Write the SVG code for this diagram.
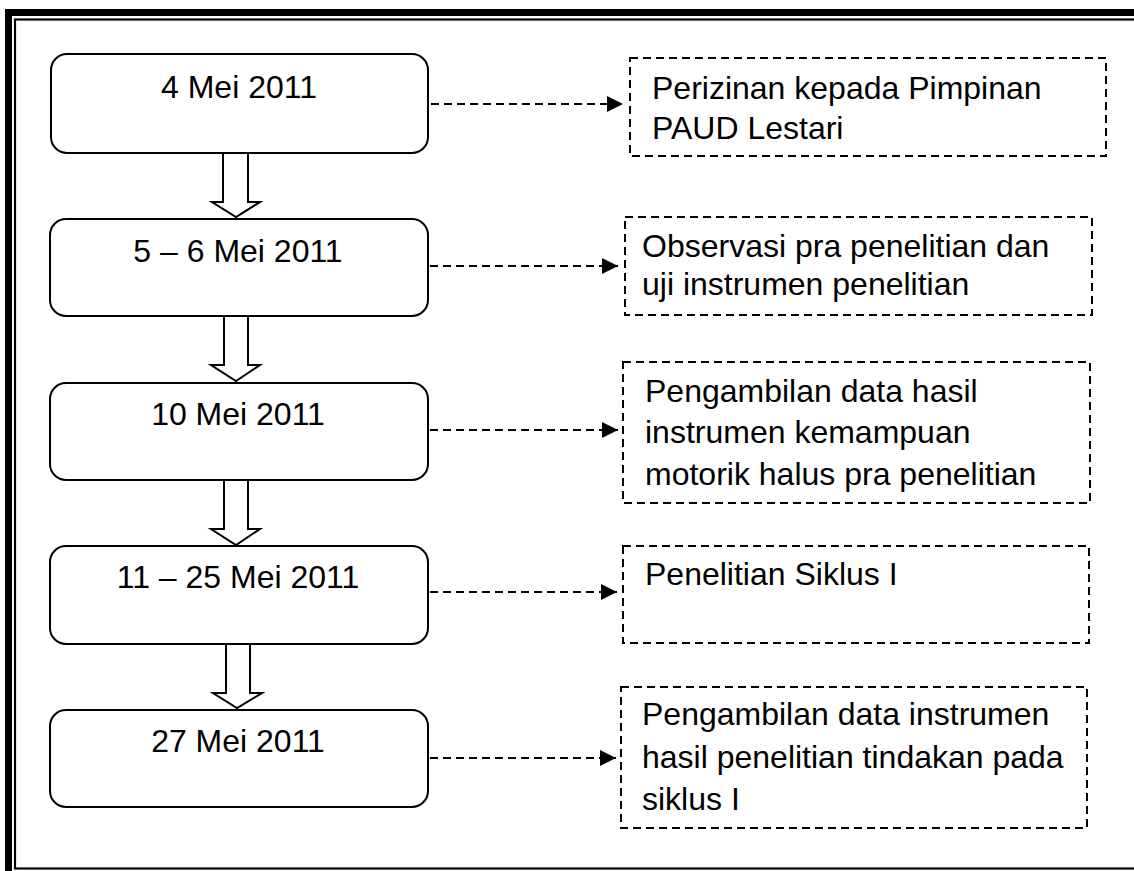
<svg xmlns="http://www.w3.org/2000/svg" width="1134" height="871" viewBox="0 0 1134 871">
<style>
  .frame-outer { fill: none; stroke: #000; stroke-width: 7; }
  .frame-inner { fill: none; stroke: #000; stroke-width: 2.2; }
  .date { fill: #fff; stroke: #000; stroke-width: 2; }
  .note { fill: #fff; stroke: #000; stroke-width: 2; stroke-dasharray: 8 5; }
  .block { fill: #fff; stroke: #000; stroke-width: 2; stroke-linejoin: miter; }
  .dash { fill: none; stroke: #000; stroke-width: 2; stroke-dasharray: 8 5; }
  text { font-family: "Liberation Sans", Arial, sans-serif; font-size: 32px; fill: #000; }
  .c { text-anchor: middle; }
</style>
<defs>
  <marker id="ah" viewBox="0 0 16 16" refX="16" refY="8" markerWidth="16" markerHeight="16" markerUnits="userSpaceOnUse" orient="auto">
    <path d="M0,0 L16,8 L0,16 Z" fill="#000"/>
  </marker>
</defs>
<rect width="1134" height="871" fill="#fff"/>
<g id="frame">
  <rect class="frame-outer" x="8.5" y="12.5" width="1140" height="866"/>
  <rect class="frame-inner" x="15" y="19.5" width="1130" height="849"/>
</g>
<g id="connectors">
  <path class="block" d="M223,153 V202 H212 L236,217 L260,202 H248 V153"/>
  <path class="block" d="M224,316 V365 H211 L236,381 L260,365 H248 V316"/>
  <path class="block" d="M224,480 V529 H211 L236,545 L260,529 H248 V480"/>
  <path class="block" d="M226,644 V693 H213 L237,708 L262,693 H250 V644"/>
  <line class="dash" x1="431" y1="104" x2="623" y2="104" marker-end="url(#ah)"/>
  <line class="dash" x1="430" y1="266" x2="618" y2="266" marker-end="url(#ah)"/>
  <line class="dash" x1="430" y1="430" x2="618" y2="430" marker-end="url(#ah)"/>
  <line class="dash" x1="430" y1="592" x2="617" y2="592" marker-end="url(#ah)"/>
  <line class="dash" x1="430" y1="758" x2="616" y2="758" marker-end="url(#ah)"/>
</g>
<g id="d1">
  <rect class="date" x="51" y="54" width="377" height="99" rx="16"/>
  <text class="c" x="239" y="98">4 Mei 2011</text>
</g>
<g id="d2">
  <rect class="date" x="50" y="219" width="378" height="97" rx="16"/>
  <text class="c" x="238" y="262">5 – 6 Mei 2011</text>
</g>
<g id="d3">
  <rect class="date" x="50" y="383" width="378" height="97" rx="16"/>
  <text class="c" x="238" y="425">10 Mei 2011</text>
</g>
<g id="d4">
  <rect class="date" x="50" y="546" width="378" height="98" rx="16"/>
  <text class="c" x="238" y="588">11 – 25 Mei 2011</text>
</g>
<g id="d5">
  <rect class="date" x="50" y="710" width="378" height="97" rx="16"/>
  <text class="c" x="238" y="752">27 Mei 2011</text>
</g>
<g id="n1">
  <rect class="note" x="630" y="58" width="476" height="98"/>
  <text x="652" y="99">Perizinan kepada Pimpinan</text>
  <text x="652" y="139">PAUD Lestari</text>
</g>
<g id="n2">
  <rect class="note" x="625" y="217" width="467" height="98"/>
  <text x="642" y="257">Observasi pra penelitian dan</text>
  <text x="642" y="295">uji instrumen penelitian</text>
</g>
<g id="n3">
  <rect class="note" x="623" y="362" width="467" height="141"/>
  <text x="645" y="402">Pengambilan data hasil</text>
  <text x="645" y="443">instrumen kemampuan</text>
  <text x="645" y="485">motorik halus pra penelitian</text>
</g>
<g id="n4">
  <rect class="note" x="623" y="546" width="466" height="97"/>
  <text x="645" y="585">Penelitian Siklus I</text>
</g>
<g id="n5">
  <rect class="note" x="621" y="687" width="466" height="141"/>
  <text x="642" y="725">Pengambilan data instrumen</text>
  <text x="642" y="768">hasil penelitian tindakan pada</text>
  <text x="642" y="810">siklus I</text>
</g>
</svg>
